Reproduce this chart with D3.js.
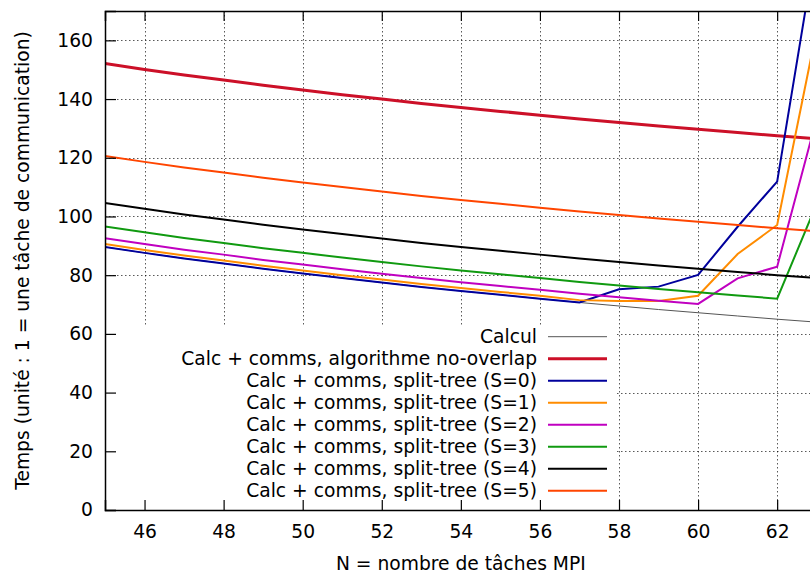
<!DOCTYPE html>
<html>
<head>
<meta charset="utf-8">
<script src="https://cdn.jsdelivr.net/npm/d3@7"></script>
<style>
  body{margin:0;background:#fff;}
  svg{display:block;font-family:"DejaVu Sans",sans-serif;}
</style>
</head>
<body>
<svg id="main"></svg>
<script>
//--------data----------
const nValues = [45,46,47,48,49,50,51,52,53,54,55,56,57,58,59,60,61,62,63];

const calcul   = [89.6,87.6,85.7,84.0,82.2,80.6,79.0,77.5,76.0,74.6,73.3,72.0,70.7,69.5,68.3,67.2,66.1,65.0,64.0];
const noOverlap= [152.1,150.1,148.2,146.5,144.7,143.1,141.5,140.0,138.5,137.1,135.8,134.5,133.2,132.0,130.8,129.7,128.6,127.5,126.5];
const splitS0  = [89.6,87.6,85.7,84.0,82.2,80.6,79.0,77.5,76.0,74.6,73.3,72.0,70.7,75.2,76.1,80.1,96.5,111.9,193.5];
const splitS1  = [90.6,88.6,86.7,85.0,83.2,81.6,80.0,78.5,77.0,75.6,74.3,73.0,71.5,71.2,71.2,73.0,87.2,97.1,163.6];
const splitS2  = [92.6,90.6,88.7,87.0,85.2,83.6,82.0,80.5,79.0,77.6,76.3,75.0,73.7,72.5,71.3,70.2,78.9,82.9,133.5];
const splitS3  = [96.6,94.6,92.7,91.0,89.2,87.6,86.0,84.5,83.0,81.6,80.3,79.0,77.7,76.5,75.3,74.2,73.1,72.0,104.3];
const splitS4  = [104.6,102.6,100.7,99.0,97.2,95.6,94.0,92.5,91.0,89.6,88.3,87.0,85.7,84.5,83.3,82.2,81.1,80.0,79.0];
const splitS5  = [120.6,118.6,116.7,115.0,113.2,111.6,110.0,108.5,107.0,105.6,104.3,103.0,101.7,100.5,99.3,98.2,97.1,96.0,95.0];

const seriesLabels = [
  'Calcul',
  'Calc + comms, algorithme no-overlap',
  'Calc + comms, split-tree (S=0)',
  'Calc + comms, split-tree (S=1)',
  'Calc + comms, split-tree (S=2)',
  'Calc + comms, split-tree (S=3)',
  'Calc + comms, split-tree (S=4)',
  'Calc + comms, split-tree (S=5)'
];
const seriesValues = [calcul, noOverlap, splitS0, splitS1, splitS2, splitS3, splitS4, splitS5];

const xTicks = [46,48,50,52,54,56,58,60,62];
const yTicks = [0,20,40,60,80,100,120,140,160];

const xLabel = 'N = nombre de tâches MPI';
const yLabel = 'Temps (unité : 1 = une tâche de communication)';

//--------code----------
const colors = ['#555555','#cc1028','#00009c','#ff8c00','#c000c0','#109a10','#000000','#ff4500'];
const widths = [1, 3, 2, 2, 2, 2, 2, 2];
const fontSize = '18.7px';

const W = 810, H = 573;
const mLeft = 105, mTop = 11, mBottom = 510, mRight = 816.7;

let svg = d3.select('#main')
  .attr('width', W)
  .attr('height', H);

let sx = d3.scaleLinear().domain([45,63]).range([mLeft, mRight]);
let sy = d3.scaleLinear().domain([0,170]).range([mBottom, mTop]);

svg.append('defs').append('clipPath').attr('id','plotClip')
  .append('rect')
  .attr('x', mLeft).attr('y', mTop)
  .attr('width', mRight-mLeft).attr('height', mBottom-mTop);

//grid
let grid = svg.append('g').attr('class','grid')
  .attr('stroke','#000').attr('stroke-opacity',0.65)
  .attr('stroke-width',1).attr('stroke-dasharray','1.5,2.5');
grid.selectAll('.gx').data(xTicks).join('line')
  .attr('x1', d=>Math.round(sx(d))+0.5).attr('x2', d=>Math.round(sx(d))+0.5)
  .attr('y1', mTop).attr('y2', mBottom);
grid.selectAll('.gy').data(yTicks.filter(d=>d>0)).join('line')
  .attr('x1', mLeft).attr('x2', mRight)
  .attr('y1', d=>Math.round(sy(d))+0.5).attr('y2', d=>Math.round(sy(d))+0.5);

//series
let line = d3.line().x((d,i)=>sx(nValues[i])).y(d=>sy(d));
let plot = svg.append('g').attr('clip-path','url(#plotClip)');
plot.selectAll('.series')
  .data(seriesValues)
  .join('path')
  .attr('class','series')
  .attr('fill','none')
  .attr('stroke',(d,i)=>colors[i])
  .attr('stroke-width',(d,i)=>widths[i])
  .attr('stroke-linejoin','miter')
  .attr('d', line);

//legend (opaque box)
const legX = 537, legY0 = 336.7, legDy = 22;
svg.append('rect')
  .attr('x', mLeft+1).attr('y', 326)
  .attr('width', 615-mLeft-1).attr('height', mBottom-326)
  .attr('fill','#fff');
let leg = svg.append('g').attr('class','legend');
leg.selectAll('text').data(seriesLabels).join('text')
  .attr('x', legX).attr('y', (d,i)=>legY0 + 6.5 + i*legDy)
  .attr('text-anchor','end')
  .attr('font-size', fontSize)
  .attr('fill','#000')
  .text(d=>d);
leg.selectAll('line').data(seriesLabels).join('line')
  .attr('x1', 548).attr('x2', 607)
  .attr('y1', (d,i)=>legY0 + i*legDy).attr('y2', (d,i)=>legY0 + i*legDy)
  .attr('stroke', (d,i)=>colors[i])
  .attr('stroke-width', (d,i)=>widths[i]);

//axes
let ax = d3.axisBottom(sx).tickValues(xTicks).tickSize(-10).tickPadding(15).tickFormat(d3.format('d'));
let axTop = d3.axisTop(sx).tickValues(xTicks).tickSize(-10).tickFormat('');
let ay = d3.axisLeft(sy).tickValues(yTicks).tickSize(-11).tickPadding(12).tickFormat(d3.format('d'));

let gx = svg.append('g').attr('transform',`translate(0,${mBottom})`).call(ax);
let gxt = svg.append('g').attr('transform',`translate(0,${mTop})`).call(axTop);
let gy = svg.append('g').attr('transform',`translate(${mLeft},0)`).call(ay);
[gx,gxt,gy].forEach(g=>{
  g.select('.domain').attr('stroke','#000').attr('stroke-width',1.5);
  g.selectAll('.tick line').attr('stroke','#000').attr('stroke-width',1.2);
  g.selectAll('text').attr('font-size', fontSize).attr('font-family','"DejaVu Sans",sans-serif').attr('fill','#000');
});

//axis titles
svg.append('text')
  .attr('x', (mLeft+mRight)/2).attr('y', 570)
  .attr('text-anchor','middle')
  .attr('font-size', fontSize)
  .text(xLabel);
svg.append('text')
  .attr('transform', `translate(22,${(mTop+mBottom)/2}) rotate(-90)`)
  .attr('text-anchor','middle').attr('dominant-baseline','central')
  .attr('font-size', fontSize)
  .text(yLabel);
</script>
</body>
</html>
